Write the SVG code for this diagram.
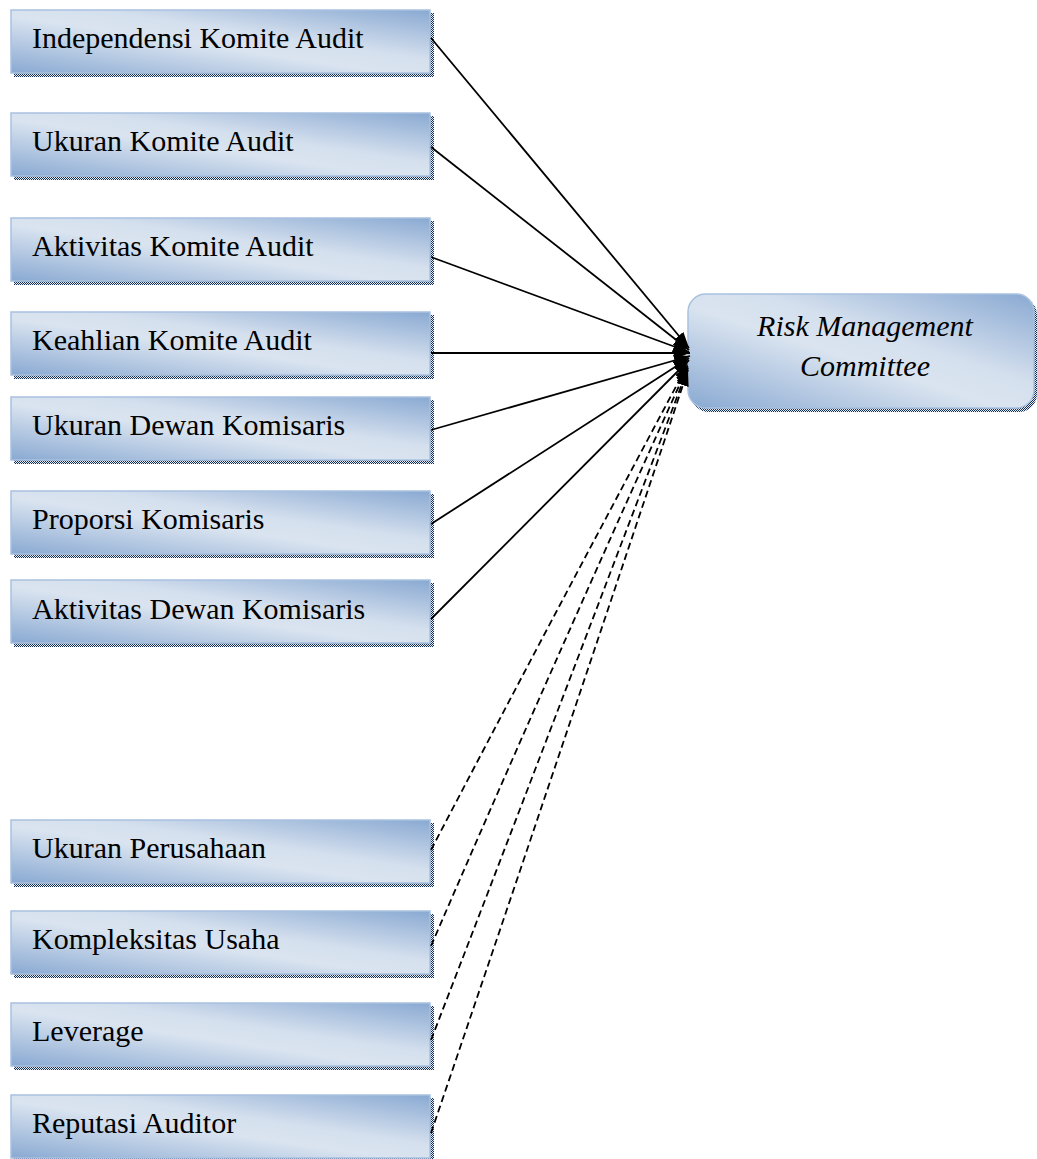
<svg xmlns="http://www.w3.org/2000/svg" width="1037" height="1159" viewBox="0 0 1037 1159">
<defs>
<linearGradient id="g" x1="0" y1="1" x2="1" y2="0">
<stop offset="0" stop-color="#89a9d2"/>
<stop offset="0.45" stop-color="#dae4f0"/>
<stop offset="0.6" stop-color="#d5e0ee"/>
<stop offset="1" stop-color="#89a9d2"/>
</linearGradient>
<pattern id="chk" width="2" height="2" patternUnits="userSpaceOnUse">
<rect width="2" height="2" fill="#e8ecf2"/>
<rect width="1" height="1" fill="#13305a"/>
<rect x="1" y="1" width="1" height="1" fill="#13305a"/>
</pattern>
<marker id="ah" viewBox="0 0 16 12" refX="16" refY="6" markerWidth="16" markerHeight="12" markerUnits="userSpaceOnUse" orient="auto">
<path d="M0,0 L16,6 L0,12 z" fill="#000"/>
</marker>
</defs>
<style>
.sh{fill:url(#chk)}
.bx{fill:url(#g);stroke:#a9c1df;stroke-width:1.5}
.t{font-family:"Liberation Serif","Times New Roman",serif;font-size:30px;fill:#000}
.ti{font-family:"Liberation Serif","Times New Roman",serif;font-size:30px;font-style:italic;fill:#000}
.s{stroke:#000;stroke-width:1.8;fill:none;marker-end:url(#ah)}
.d{stroke:#000;stroke-width:1.8;fill:none;stroke-dasharray:7 4;marker-end:url(#ah)}
</style>
<g id="n1"><rect class="sh" x="14" y="13" width="420" height="64"/><rect class="bx" x="11" y="10" width="419" height="63"/><text class="t" x="32" y="48">Independensi Komite Audit</text></g>
<g id="n2"><rect class="sh" x="14" y="116" width="420" height="64"/><rect class="bx" x="11" y="113" width="419" height="63"/><text class="t" x="32" y="151">Ukuran Komite Audit</text></g>
<g id="n3"><rect class="sh" x="14" y="221" width="420" height="64"/><rect class="bx" x="11" y="218" width="419" height="63"/><text class="t" x="32" y="256">Aktivitas Komite Audit</text></g>
<g id="n4"><rect class="sh" x="14" y="315" width="420" height="64"/><rect class="bx" x="11" y="312" width="419" height="63"/><text class="t" x="32" y="350">Keahlian Komite Audit</text></g>
<g id="n5"><rect class="sh" x="14" y="400" width="420" height="64"/><rect class="bx" x="11" y="397" width="419" height="63"/><text class="t" x="32" y="435">Ukuran Dewan Komisaris</text></g>
<g id="n6"><rect class="sh" x="14" y="494" width="420" height="64"/><rect class="bx" x="11" y="491" width="419" height="63"/><text class="t" x="32" y="529">Proporsi Komisaris</text></g>
<g id="n7"><rect class="sh" x="14" y="583" width="420" height="64"/><rect class="bx" x="11" y="580" width="419" height="63"/><text class="t" x="32" y="619">Aktivitas Dewan Komisaris</text></g>
<g id="n8"><rect class="sh" x="14" y="823" width="420" height="64"/><rect class="bx" x="11" y="820" width="419" height="63"/><text class="t" x="32" y="858">Ukuran Perusahaan</text></g>
<g id="n9"><rect class="sh" x="14" y="914" width="420" height="64"/><rect class="bx" x="11" y="911" width="419" height="63"/><text class="t" x="32" y="949">Kompleksitas Usaha</text></g>
<g id="n10"><rect class="sh" x="14" y="1006" width="420" height="64"/><rect class="bx" x="11" y="1003" width="419" height="63"/><text class="t" x="32" y="1041">Leverage</text></g>
<g id="n11"><rect class="sh" x="14" y="1098" width="420" height="64"/><rect class="bx" x="11" y="1095" width="419" height="63"/><text class="t" x="32" y="1133">Reputasi Auditor</text></g>
<g id="rmc"><rect class="sh" x="691" y="297" width="346" height="115" rx="18"/><rect class="bx" x="688" y="294" width="346" height="114" rx="18"/><text class="ti" x="865" y="336" text-anchor="middle">Risk Management</text><text class="ti" x="865" y="376" text-anchor="middle">Committee</text></g>
<g id="connectors">
<path class="s" d="M431,38 L689,348"/>
<path class="s" d="M431,147 L689,350"/>
<path class="s" d="M431,257 L689,352"/>
<path class="s" d="M431,353 L690,353"/>
<path class="s" d="M431,430 L690,356"/>
<path class="s" d="M431,524 L689,358"/>
<path class="s" d="M431,619 L689,360"/>
<path class="d" d="M431,850 Q546,630 688,364"/>
<path class="d" d="M431,946 Q546,680 688,366"/>
<path class="d" d="M431,1040 Q551,730 688,368"/>
<path class="d" d="M431,1133 Q553,775 688,370"/>
</g>
</svg>
